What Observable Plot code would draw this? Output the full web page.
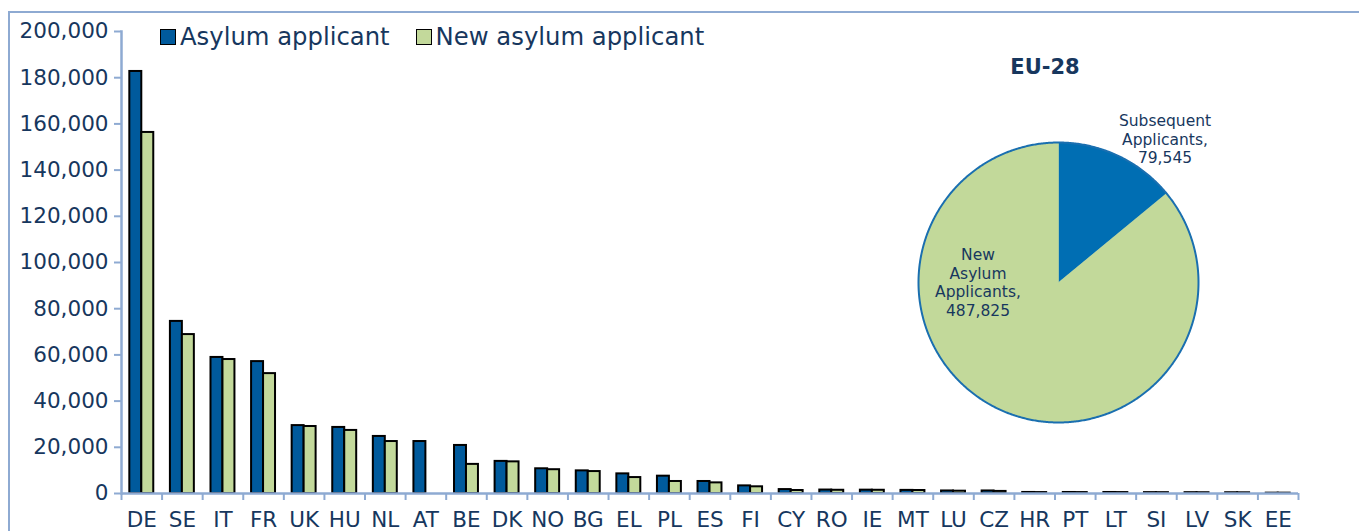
<!DOCTYPE html>
<html>
<head>
<meta charset="utf-8">
<script src="https://cdn.jsdelivr.net/npm/d3@7"></script>
<script src="https://cdn.jsdelivr.net/npm/@observablehq/plot@0.6"></script>
<style>
  html, body { margin: 0; padding: 0; background: #fff; }
  #wrap { position: relative; width: 1359px; height: 531px; overflow: hidden; font-family: "DejaVu Sans", Verdana, sans-serif; color: #17375e; }
  #border { position: absolute; left: 8px; top: 11px; width: 1400px; height: 600px; border-top: 2px solid #8eaad2; border-left: 2px solid #8eaad2; }
  #bars { position: absolute; left: 0; top: 0; }
  #pie { position: absolute; left: 908px; top: 132px; }
  #legend { position: absolute; left: 160px; top: 22px; display: flex; align-items: center; font-size: 24.3px; white-space: nowrap; }
  .sw { display: inline-block; width: 14px; height: 14px; border: 1.5px solid #000; margin-right: 4px; }
  .item { display: flex; align-items: center; margin-right: 26px; }
  .lbl { position: absolute; text-align: center; font-size: 15.5px; line-height: 18.5px; white-space: nowrap; }
  #pietitle { position: absolute; left: 985px; top: 55px; width: 120px; text-align: center; font-weight: bold; font-size: 21px; }
</style>
</head>
<body>
<div id="wrap">
  <div id="border"></div>
  <div id="bars"></div>
  <div id="pie"></div>
  <div id="legend"></div>
  <div id="pietitle"></div>
  <div class="lbl" id="lblSub" style="left:1105px; top:112px; width:120px;"></div>
  <div class="lbl" id="lblNew" style="left:918px; top:246px; width:120px;"></div>
</div>
<script>
// ---- data ----
const countries = ["DE","SE","IT","FR","UK","HU","NL","AT","BE","DK","NO","BG","EL","PL","ES","FI","CY","RO","IE","MT","LU","CZ","HR","PT","LT","SI","LV","SK","EE"];
const asylumApplicants = [182700,74500,58900,57100,29400,28600,24700,22500,20800,13900,10700,9800,8500,7500,5200,3300,1700,1500,1450,1350,1100,1100,450,440,440,380,360,330,150];
const newAsylumApplicants = [156300,68800,58000,51900,29000,27300,22500,null,12600,13700,10300,9500,6900,5200,4600,2900,1300,1400,1400,1300,1000,900,400,400,400,360,330,300,150];
const seriesNames = ["Asylum applicant","New asylum applicant"];
const yTicks = [0,20000,40000,60000,80000,100000,120000,140000,160000,180000,200000];
const pieTitle = "EU-28";
const pieNames = ["Subsequent Applicants","New Asylum Applicants"];
const pieValues = [79545, 487825];

// ---- styles ----
const navy = "#17375e";
const axisColor = "#8eaad2";
const barColors = ["#005a9c", "#c3d99b"];
const pieColors = ["#006eb3", "#c2d99a"];
const fontFamily = '"DejaVu Sans", Verdana, sans-serif';

// ---- bar chart ----
const W = 1359, H = 531;
const mL = 121, mR = 61, mT = 31, mB = 38;
const padInner = 0.41, padOuter = 0.205;
const step = (W - mL - mR) / (countries.length - padInner + 2 * padOuter);
const bandwidth = step * (1 - padInner);
const half = bandwidth / 2;

const rows = [];
countries.forEach((c, i) => {
  rows.push({country: c, series: seriesNames[0], value: asylumApplicants[i]});
  if (newAsylumApplicants[i] != null) rows.push({country: c, series: seriesNames[1], value: newAsylumApplicants[i]});
});

const bars = Plot.plot({
  width: W, height: H,
  marginLeft: mL, marginRight: mR, marginTop: mT, marginBottom: mB,
  style: {fontFamily, fontSize: "21.5px", color: navy, background: "transparent", overflow: "visible"},
  x: {domain: countries, paddingInner: padInner, paddingOuter: padOuter, round: false, axis: null, label: null},
  y: {domain: [0, 200000], axis: null, label: null},
  color: {domain: seriesNames, range: barColors},
  marks: [
    Plot.barY(rows.filter(d => d.series === seriesNames[0]), {x: "country", y: "value", fill: "series", stroke: "#000", strokeWidth: 2, insetRight: half}),
    Plot.barY(rows.filter(d => d.series === seriesNames[1]), {x: "country", y: "value", fill: "series", stroke: "#000", strokeWidth: 2, insetLeft: half}),
    // y axis
    Plot.axisY({ticks: yTicks, tickFormat: d3.format(","), tickSize: 7, tickPadding: 6, stroke: axisColor, strokeWidth: 2, fill: navy, fontSize: 21.5, label: null}),
    Plot.frame({anchor: "left", stroke: axisColor, strokeWidth: 2.5}),
    // x axis
    Plot.ruleY([0], {stroke: axisColor, strokeWidth: 2.5}),
    Plot.axisX({ticks: countries, tickSize: 7, dx: -step / 2, text: null, stroke: axisColor, strokeWidth: 2, label: null}),
    Plot.axisX({ticks: countries.slice(-1), tickSize: 7, dx: step / 2, text: null, stroke: axisColor, strokeWidth: 2, label: null}),
    Plot.axisX({ticks: countries, tickSize: 0, tickPadding: 18, fill: navy, fontSize: 21.5, label: null})
  ]
});
document.getElementById("bars").appendChild(bars);

// ---- legend ----
const legend = document.getElementById("legend");
seriesNames.forEach((name, i) => {
  const item = document.createElement("div");
  item.className = "item";
  const sw = document.createElement("span");
  sw.className = "sw";
  sw.style.background = barColors[i];
  const t = document.createElement("span");
  t.textContent = name;
  item.appendChild(sw); item.appendChild(t);
  legend.appendChild(item);
});

// ---- pie chart ----
const arcs = d3.pie().sort(null)(pieValues);
const piePts = [];
arcs.forEach((a, i) => {
  const n = Math.max(2, Math.ceil((a.endAngle - a.startAngle) / (Math.PI / 360)));
  piePts.push({slice: pieNames[i], x: 0, y: 0});
  for (let k = 0; k <= n; k++) {
    const t = a.startAngle + (a.endAngle - a.startAngle) * k / n;
    piePts.push({slice: pieNames[i], x: Math.sin(t), y: Math.cos(t)});
  }
  piePts.push({slice: pieNames[i], x: 0, y: 0});
});
const circlePts = d3.range(0, 721).map(k => ({x: Math.sin(k * Math.PI / 360), y: Math.cos(k * Math.PI / 360)}));

const pie = Plot.plot({
  width: 300, height: 300, margin: 10,
  x: {domain: [-1, 1], axis: null},
  y: {domain: [-1, 1], axis: null},
  color: {domain: pieNames, range: pieColors},
  style: {background: "transparent", overflow: "visible"},
  marks: [
    Plot.line(piePts, {x: "x", y: "y", z: "slice", fill: "slice", stroke: "slice", strokeWidth: 0.5, curve: "linear"}),
    Plot.line(circlePts, {x: "x", y: "y", stroke: "#1a6fb0", strokeWidth: 2, curve: "linear"})
  ]
});
document.getElementById("pie").appendChild(pie);

document.getElementById("pietitle").textContent = pieTitle;
const fmt = d3.format(",");
document.getElementById("lblSub").innerHTML = "Subsequent<br>Applicants,<br>" + fmt(pieValues[0]);
document.getElementById("lblNew").innerHTML = "New<br>Asylum<br>Applicants,<br>" + fmt(pieValues[1]);
</script>
</body>
</html>
